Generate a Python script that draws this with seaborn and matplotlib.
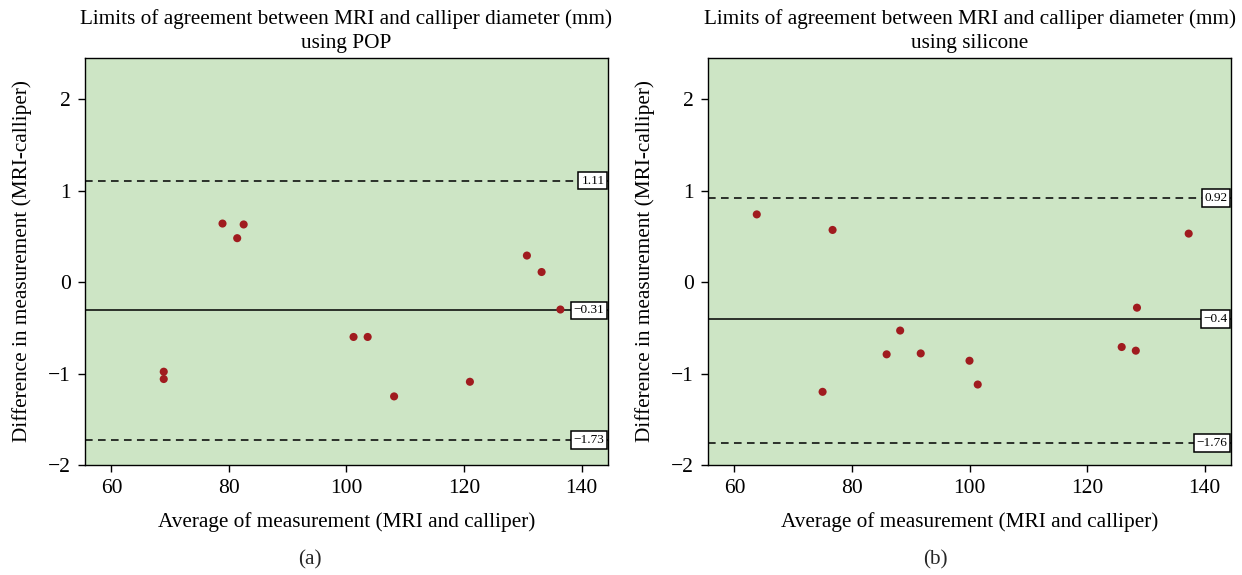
import matplotlib
matplotlib.use("Agg")
import matplotlib.pyplot as plt
import matplotlib.transforms as mtransforms
import seaborn as sns
import pandas as pd

# Bland-Altman data
pop_avg = [78.9, 81.4, 82.5, 130.7, 133.2, 136.4, 101.2, 103.6, 68.9, 68.9, 108.1, 121.0]
pop_diff = [0.64, 0.48, 0.63, 0.29, 0.11, -0.30, -0.60, -0.60, -0.98, -1.06, -1.25, -1.09]
pop_limits = [1.11, -0.31, -1.73]  # upper, mean, lower

sil_avg = [63.8, 76.7, 137.3, 75.0, 85.9, 88.2, 91.7, 100.0, 101.4, 125.9, 128.3, 128.5]
sil_diff = [0.74, 0.57, 0.53, -1.20, -0.79, -0.53, -0.78, -0.86, -1.12, -0.71, -0.75, -0.28]
sil_limits = [0.92, -0.40, -1.76]

titles = ["Limits of agreement between MRI and calliper diameter (mm)\nusing POP",
          "Limits of agreement between MRI and calliper diameter (mm)\nusing silicone"]
limit_labels = [["1.11", "\u22120.31", "\u22121.73"], ["0.92", "\u22120.4", "\u22121.76"]]
panel_tags = ["(a)", "(b)"]
xticks = [60, 80, 100, 120, 140]
yticks = [-2, -1, 0, 1, 2]

sns.set_theme(style="ticks")
plt.rcParams['font.family'] = ['Liberation Serif', 'DejaVu Serif']
plt.rcParams['axes.unicode_minus'] = True

fig = plt.figure(figsize=(12.42, 5.75), dpi=100)
ax_a = fig.add_axes([85 / 1242, 110 / 575, 523 / 1242, 407 / 575])
ax_b = fig.add_axes([708 / 1242, 110 / 575, 523 / 1242, 407 / 575])

datasets = [(pop_avg, pop_diff, pop_limits), (sil_avg, sil_diff, sil_limits)]

for i, (ax, (avg, diff, lims)) in enumerate(zip([ax_a, ax_b], datasets)):
    df = pd.DataFrame({'avg': avg, 'diff': diff})
    ax.set_facecolor('#cde5c5')

    # limit lines: dashed for limits, solid for the mean
    ax.axhline(lims[0], color='black', lw=1.1, ls=(0, (5, 3.5)), zorder=1)
    ax.axhline(lims[1], color='black', lw=1.1, ls='-', zorder=1)
    ax.axhline(lims[2], color='black', lw=1.1, ls=(0, (5, 3.5)), zorder=1)

    sns.scatterplot(data=df, x='avg', y='diff', ax=ax, color='#a01b1f',
                    s=34, edgecolor='none', zorder=3)

    trans = mtransforms.blended_transform_factory(ax.transAxes, ax.transData)
    for val, lab in zip(lims, limit_labels[i]):
        ax.annotate(lab, xy=(1.0, val), xycoords=trans, xytext=(-2.5, 0),
                    textcoords='offset points', ha='right', va='center',
                    fontsize=9.5, color='black', zorder=4,
                    bbox=dict(boxstyle='square,pad=0.22', fc='white', ec='black', lw=1.1))

    ax.set_xlim(55.5, 144.5)
    ax.set_ylim(-2.0, 2.45)
    ax.set_xticks(xticks)
    ax.set_yticks(yticks)
    ax.tick_params(axis='both', direction='out', length=5, width=1.0,
                   labelsize=15.5, color='black', labelcolor='black', pad=5)
    for sp in ax.spines.values():
        sp.set_visible(True)
        sp.set_linewidth(1.0)
        sp.set_color('black')

    ax.set_title(titles[i], fontsize=15.3, pad=7, linespacing=1.35, color='black')
    ax.set_xlabel('Average of measurement (MRI and calliper)', fontsize=15.3,
                  labelpad=10, color='black')
    ax.set_ylabel('Difference in measurement (MRI-calliper)', fontsize=15.3,
                  labelpad=12, color='black')

fig.text(310 / 1242, 1 - 560 / 575, panel_tags[0], ha='center', va='center', fontsize=15.3)
fig.text(935 / 1242, 1 - 560 / 575, panel_tags[1], ha='center', va='center', fontsize=15.3)

fig.savefig('out.png', dpi=100)
